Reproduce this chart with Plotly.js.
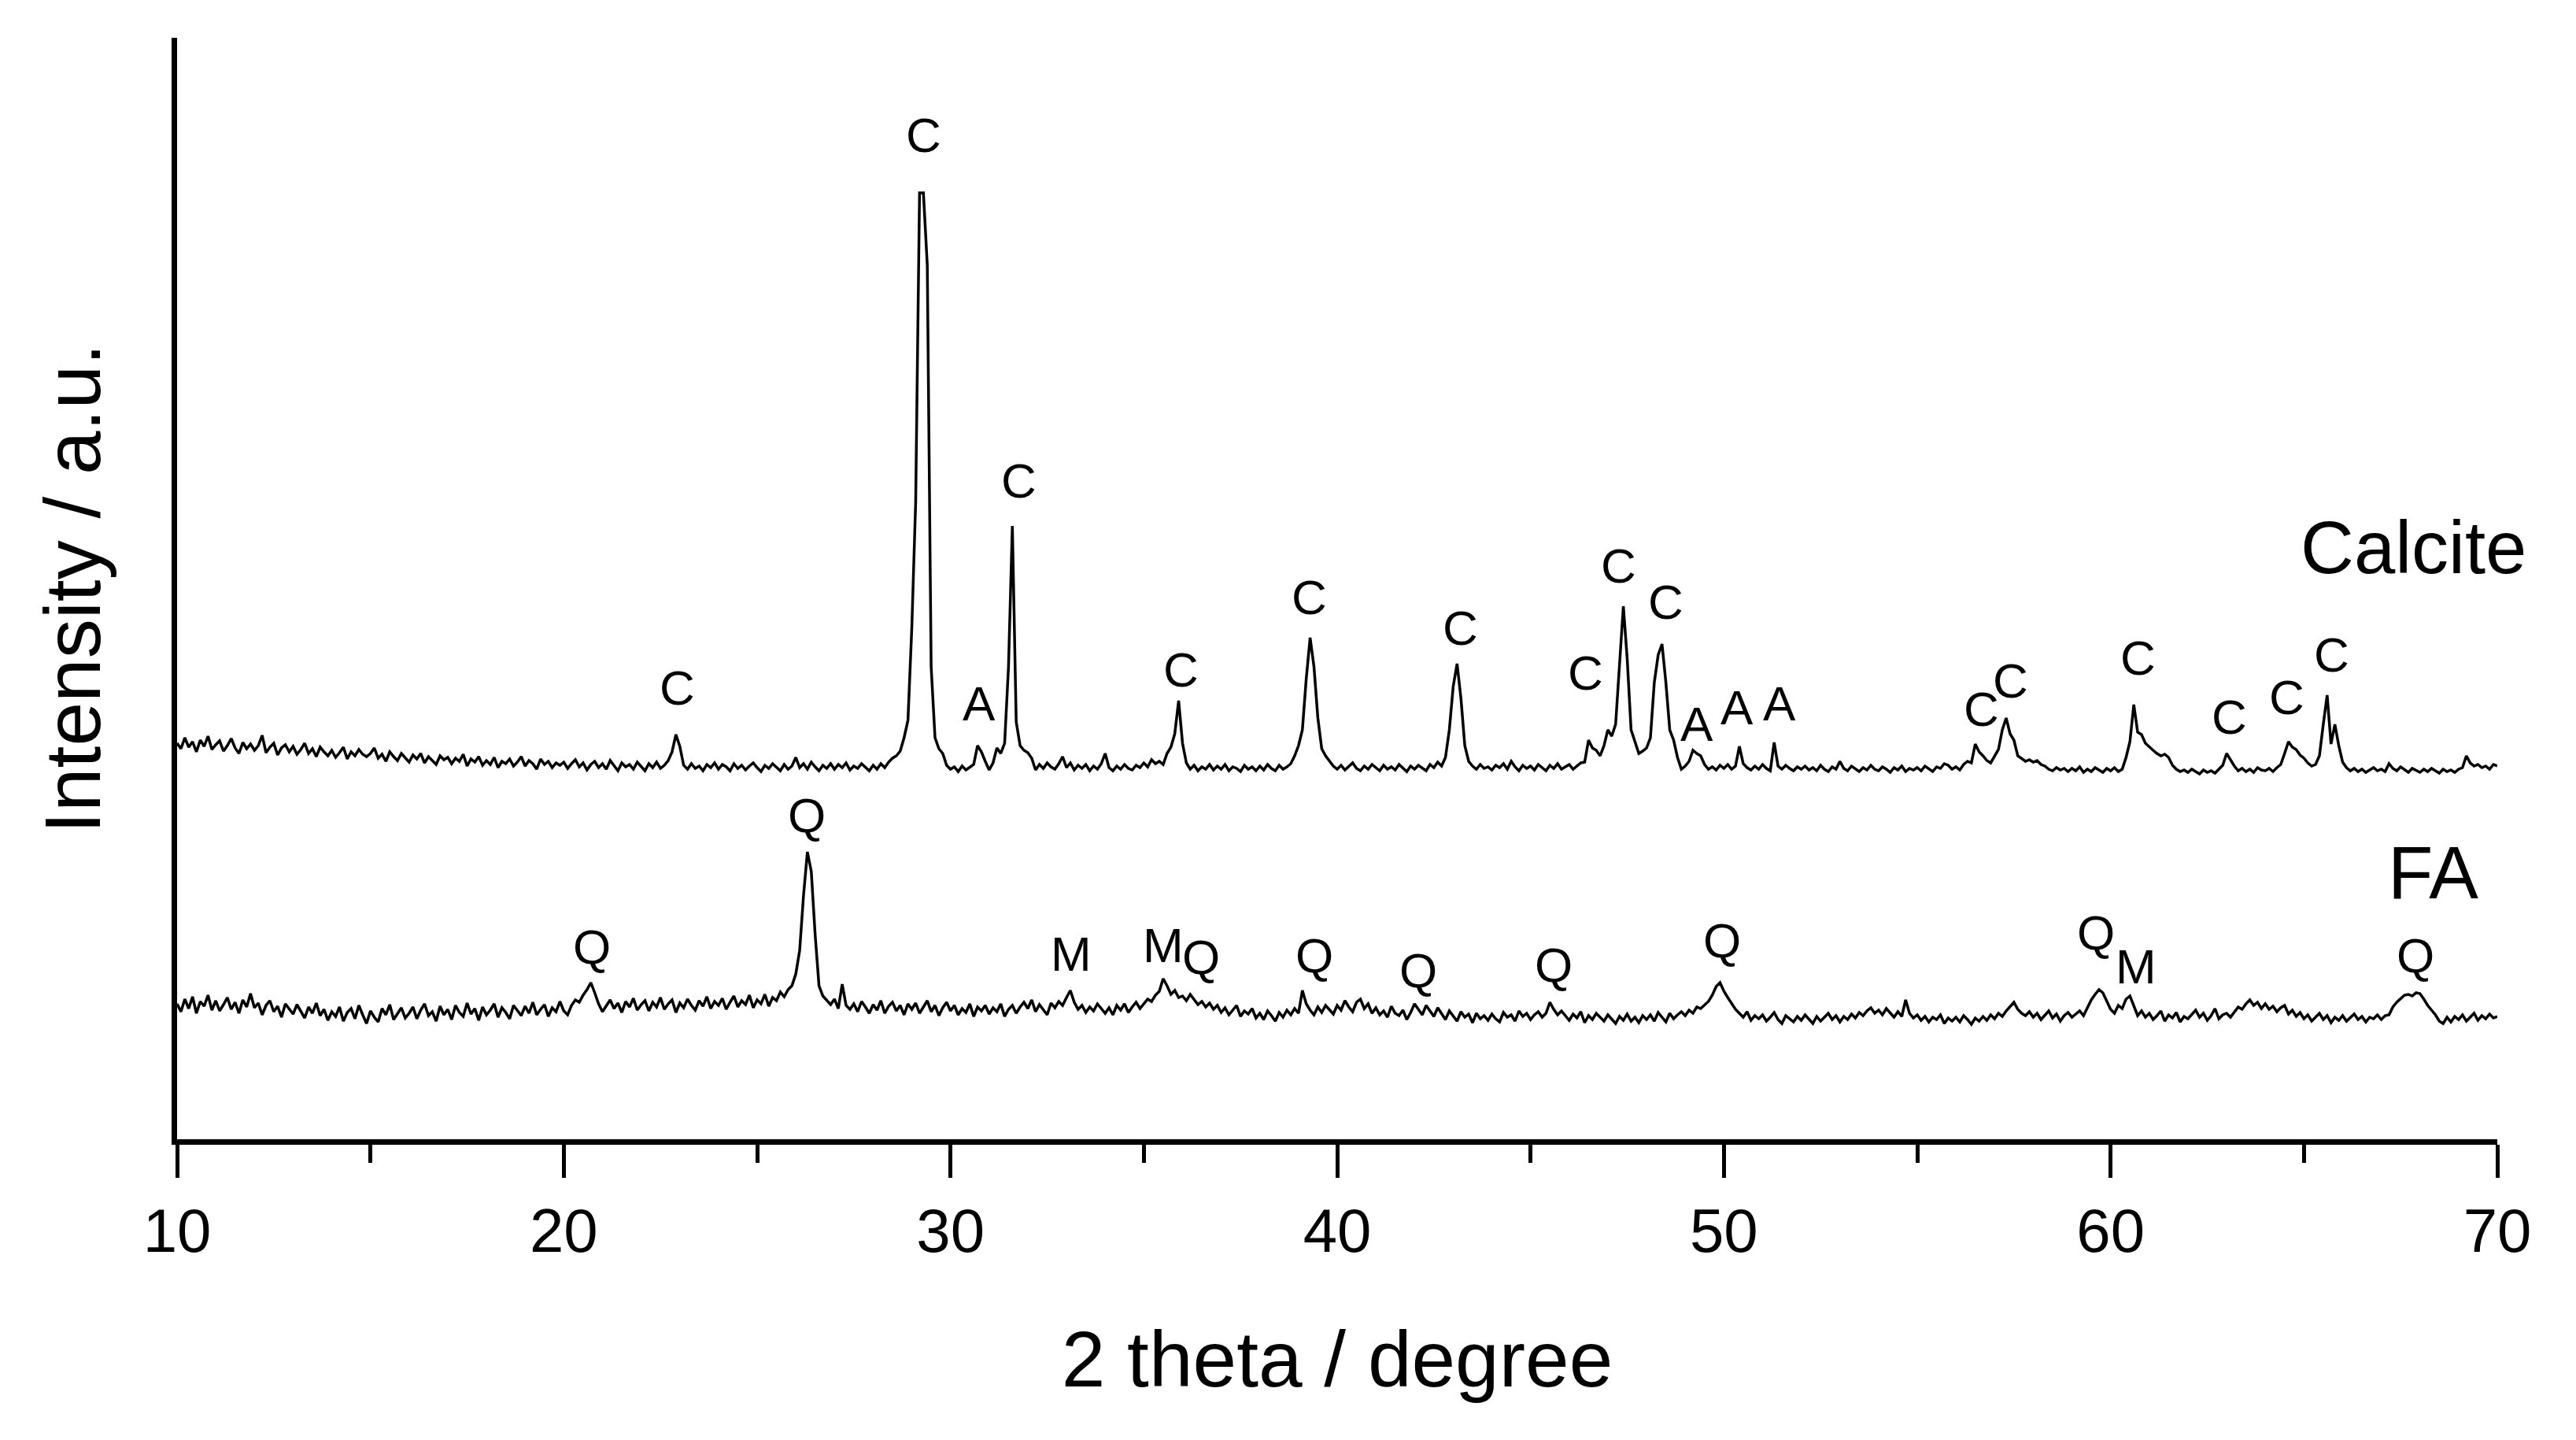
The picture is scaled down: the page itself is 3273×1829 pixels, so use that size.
<!DOCTYPE html>
<html>
<head>
<meta charset="utf-8">
<script src="https://cdn.plot.ly/plotly-3.0.1.min.js"></script>
<style>
  html, body { margin: 0; padding: 0; background: #fff; }
  #xrd { width: 3273px; height: 1829px; }
</style>
</head>
<body>
<div id="xrd"></div>
<script>
// XRD scans, 2 theta from 10 to 70 deg in 0.1 deg steps
var startAngle = 10;
var stepAngle = 0.1;

var calciteCounts = [
  503, 496, 510, 498, 505, 492, 507, 499, 512, 495, // 10
  501, 506, 493, 500, 509, 497, 490, 504, 496, 502, // 11
  494, 500, 513, 491, 498, 503, 488, 497, 501, 492, // 12
  499, 489, 495, 503, 490, 496, 486, 498, 492, 487, // 13
  494, 485, 491, 498, 483, 492, 487, 495, 489, 486, // 14
  490, 497, 484, 489, 480, 492, 486, 481, 490, 484, // 15
  479, 488, 483, 490, 478, 486, 481, 476, 487, 482, // 16
  485, 477, 484, 480, 489, 474, 483, 479, 486, 475, // 17
  481, 476, 485, 472, 480, 477, 483, 474, 479, 486, // 18
  474, 481, 477, 470, 483, 476, 480, 472, 478, 475, // 19
  479, 471, 477, 482, 473, 478, 469, 476, 480, 472, // 20
  477, 470, 481, 474, 468, 478, 473, 476, 470, 479, // 21
  474, 468, 477, 472, 479, 471, 475, 481, 492, 514, // 22
  499, 475, 470, 477, 471, 474, 468, 476, 472, 478, // 23
  470, 476, 473, 468, 477, 471, 475, 469, 474, 478, // 24
  472, 467, 475, 471, 477, 473, 468, 476, 470, 474, // 25
  485, 472, 477, 470, 479, 473, 468, 475, 471, 477, // 26
  470, 476, 472, 478, 469, 474, 471, 477, 473, 468, // 27
  475, 470, 477, 472, 479, 484, 487, 493, 510, 532, // 28
  650, 810, 1202, 1202, 1110, 600, 510, 496, 490, 475, // 29
  470, 473, 467, 474, 469, 472, 476, 500, 492, 480, // 30
  469, 478, 497, 490, 503, 600, 779, 530, 500, 494, // 31
  491, 484, 469, 476, 471, 478, 473, 470, 477, 486, // 32
  472, 478, 469, 475, 471, 476, 468, 474, 470, 477, // 33
  490, 472, 468, 474, 470, 476, 471, 469, 475, 472, // 34
  478, 473, 482, 477, 480, 476, 490, 498, 515, 557, // 35
  503, 478, 470, 475, 468, 473, 470, 476, 469, 474, // 36
  470, 476, 468, 473, 471, 467, 475, 470, 473, 468, // 37
  474, 469, 476, 471, 468, 475, 470, 473, 477, 487, // 38
  500, 520, 585, 637, 600, 535, 496, 487, 480, 474, // 39
  470, 475, 469, 473, 478, 471, 468, 474, 470, 476, // 40
  472, 468, 475, 470, 473, 469, 476, 471, 467, 474, // 41
  470, 475, 471, 468, 476, 472, 479, 474, 485, 520, // 42
  575, 604, 560, 500, 480, 474, 470, 476, 471, 473, // 43
  469, 475, 472, 477, 470, 480, 473, 468, 475, 471, // 44
  474, 469, 476, 472, 468, 475, 471, 477, 470, 473, // 45
  476, 470, 474, 478, 479, 507, 497, 494, 487, 500, // 46
  520, 512, 527, 604, 677, 610, 520, 505, 490, 493, // 47
  497, 510, 580, 615, 629, 580, 520, 507, 485, 470, // 48
  474, 480, 494, 490, 487, 476, 470, 473, 469, 475, // 49
  471, 476, 470, 474, 499, 477, 472, 469, 474, 470, // 50
  476, 471, 468, 504, 474, 470, 475, 471, 468, 473, // 51
  470, 474, 469, 472, 468, 475, 470, 467, 473, 470, // 52
  480, 471, 468, 474, 470, 467, 472, 469, 475, 470, // 53
  468, 473, 470, 466, 472, 469, 474, 467, 471, 469, // 54
  472, 468, 474, 470, 467, 473, 471, 477, 475, 470, // 55
  473, 469, 476, 480, 478, 502, 492, 487, 481, 478, // 56
  487, 495, 520, 535, 515, 507, 487, 484, 480, 482, // 57
  479, 481, 476, 474, 470, 468, 472, 469, 471, 467, // 58
  471, 468, 473, 466, 470, 467, 472, 469, 466, 471, // 59
  468, 472, 467, 470, 485, 505, 552, 517, 514, 503, // 60
  498, 494, 490, 487, 489, 485, 475, 470, 467, 469, // 61
  466, 470, 467, 464, 469, 466, 468, 465, 470, 475, // 62
  490, 482, 474, 468, 471, 467, 470, 466, 472, 469, // 63
  468, 471, 467, 472, 476, 490, 505, 498, 495, 488, // 64
  484, 478, 474, 476, 487, 527, 564, 502, 527, 500, // 65
  479, 472, 468, 471, 467, 470, 466, 469, 472, 468, // 66
  470, 467, 477, 471, 468, 473, 469, 466, 471, 468, // 67
  466, 470, 467, 471, 468, 465, 470, 467, 469, 466, // 68
  470, 472, 487, 478, 474, 476, 472, 474, 470, 476, // 69
  474
];

var faCounts = [
  172, 162, 178, 166, 181, 160, 175, 169, 183, 164, // 10
  176, 163, 171, 180, 165, 174, 160, 177, 168, 185, // 11
  167, 173, 158, 170, 176, 162, 169, 155, 172, 165, // 12
  159, 171, 163, 154, 168, 160, 173, 157, 165, 151, // 13
  162, 156, 168, 150, 161, 166, 153, 170, 158, 147, // 14
  163, 155, 149, 166, 158, 171, 152, 160, 167, 154, // 15
  160, 168, 153, 164, 172, 157, 162, 150, 169, 158, // 16
  165, 152, 170, 161, 156, 173, 159, 166, 151, 168, // 17
  158, 164, 172, 155, 167, 161, 153, 170, 163, 157, // 18
  169, 160, 174, 158, 165, 171, 156, 167, 162, 175, // 19
  163, 158, 170, 177, 174, 183, 190, 199, 186, 172, // 20
  162, 170, 177, 166, 173, 161, 175, 168, 179, 164, // 21
  171, 176, 163, 174, 168, 180, 165, 172, 177, 161, // 22
  173, 167, 178, 170, 164, 176, 169, 181, 166, 175, // 23
  170, 179, 165, 174, 182, 168, 176, 171, 183, 167, // 24
  177, 172, 184, 169, 180, 176, 187, 181, 190, 195, // 25
  210, 240, 310, 365, 340, 260, 195, 182, 177, 171, // 26
  178, 166, 197, 170, 165, 172, 162, 175, 168, 160, // 27
  171, 164, 176, 160, 169, 174, 163, 170, 158, 172, // 28
  165, 173, 160, 168, 176, 162, 170, 157, 167, 174, // 29
  163, 170, 158, 166, 161, 172, 156, 168, 163, 170, // 30
  159, 167, 162, 172, 156, 165, 170, 160, 168, 174, // 31
  166, 177, 162, 171, 165, 158, 173, 167, 175, 170, // 32
  180, 189, 174, 165, 170, 161, 168, 163, 172, 166, // 33
  160, 167, 158, 170, 164, 172, 161, 168, 174, 166, // 34
  172, 178, 175, 183, 188, 204, 195, 184, 189, 180, // 35
  182, 176, 184, 178, 171, 175, 168, 173, 165, 170, // 36
  161, 167, 158, 164, 170, 156, 163, 159, 166, 154, // 37
  160, 152, 163, 157, 150, 161, 155, 164, 158, 166, // 38
  160, 189, 172, 164, 158, 168, 161, 170, 165, 159, // 39
  170, 164, 176, 168, 162, 174, 178, 166, 172, 160, // 40
  167, 158, 163, 155, 169, 160, 157, 164, 152, 161, // 41
  172, 165, 158, 170, 163, 156, 167, 160, 152, 163, // 42
  157, 150, 162, 155, 159, 148, 160, 153, 157, 151, // 43
  159, 153, 149, 161, 155, 158, 150, 163, 156, 160, // 44
  152, 158, 162, 155, 160, 174, 165, 158, 163, 157, // 45
  151, 159, 154, 162, 148, 157, 152, 160, 155, 150, // 46
  158, 153, 147, 156, 151, 159, 150, 155, 148, 157, // 47
  152, 158, 150, 161, 155, 149, 160, 153, 158, 162, // 48
  157, 164, 160, 168, 166, 170, 175, 183, 194, 199, // 49
  188, 180, 172, 165, 160, 155, 162, 151, 157, 153, // 50
  158, 150, 155, 161, 152, 147, 157, 153, 149, 156, // 51
  151, 158, 153, 147, 156, 150, 155, 160, 152, 157, // 52
  149, 156, 152, 159, 154, 161, 157, 163, 167, 160, // 53
  164, 158, 166, 161, 155, 162, 156, 177, 160, 154, // 54
  158, 151, 156, 149, 155, 152, 158, 147, 154, 150, // 55
  155, 149, 157, 152, 146, 154, 150, 156, 151, 158, // 56
  153, 160, 156, 163, 168, 174, 165, 160, 157, 162, // 57
  155, 160, 152, 158, 163, 154, 159, 150, 157, 161, // 58
  155, 159, 163, 157, 168, 177, 184, 190, 186, 175, // 59
  165, 160, 170, 166, 178, 182, 170, 157, 163, 155, // 60
  160, 152, 157, 163, 150, 158, 154, 161, 149, 156, // 61
  153, 159, 164, 155, 160, 151, 157, 166, 153, 158, // 62
  160, 155, 162, 168, 165, 172, 177, 170, 174, 166, // 63
  172, 165, 169, 162, 167, 170, 159, 164, 156, 161, // 64
  153, 158, 150, 155, 160, 152, 157, 148, 155, 151, // 65
  157, 150, 154, 159, 152, 156, 149, 155, 153, 158, // 66
  152, 157, 158, 168, 174, 178, 183, 184, 182, 186, // 67
  185, 178, 170, 164, 158, 150, 147, 155, 149, 156, // 68
  152, 158, 150, 155, 160, 151, 157, 153, 159, 154, // 69
  156
];

// phase marks: C calcite, A, Q quartz, M mullite
var calciteMarks  = ['C', 'C', 'A', 'C', 'C', 'C', 'C', 'C', 'C', 'C', 'A', 'A', 'A', 'C', 'C', 'C', 'C', 'C', 'C'];
var calciteMarkAt = [22.93, 29.3, 30.74, 31.76, 35.97, 39.28, 43.19, 46.42, 47.27, 48.5, 49.3, 50.33, 51.43, 56.66, 57.42, 60.7, 63.07, 64.56, 65.71];
var calciteMarkH  = [574, 1276, 554, 837, 597, 689, 650, 593, 729, 683, 528, 549, 554, 547, 583, 612, 537, 562, 616];

var faMarks  = ['Q', 'Q', 'M', 'M', 'Q', 'Q', 'Q', 'Q', 'Q', 'Q', 'M', 'Q'];
var faMarkAt = [20.72, 26.28, 33.12, 35.5, 36.48, 39.41, 42.09, 45.6, 49.95, 59.63, 60.65, 67.88];
var faMarkH  = [245, 412, 236, 247, 232, 234, 215, 222, 253, 263, 220, 234];

var sampleNames = ['Calcite', 'FA'];
var sampleNameAt = [67.83, 68.34];
var sampleNameH = [752, 339];

var font = 'Arial, "Liberation Sans", sans-serif';

var traces = [
  {x0: startAngle, dx: stepAngle, y: calciteCounts, name: 'Calcite', type: 'scatter', mode: 'lines',
   line: {color: '#000', width: 3.5}},
  {x0: startAngle, dx: stepAngle, y: faCounts, name: 'FA', type: 'scatter', mode: 'lines',
   line: {color: '#000', width: 3.5}}
];

var notes = [];
function addMarks(txt, xs, ys, size) {
  for (var i = 0; i < txt.length; i++) {
    notes.push({x: xs[i], y: ys[i], xref: 'x', yref: 'y', text: txt[i], showarrow: false,
      xanchor: 'center', yanchor: 'middle', font: {family: font, size: size, color: '#000'}});
  }
}
addMarks(calciteMarks, calciteMarkAt, calciteMarkH, 62);
addMarks(faMarks, faMarkAt, faMarkH, 62);
addMarks(sampleNames, sampleNameAt, sampleNameH, 94);

var layout = {
  width: 3273,
  height: 1829,
  margin: {l: 225, r: 100, t: 48, b: 382},
  paper_bgcolor: '#fff',
  plot_bgcolor: '#fff',
  showlegend: false,
  font: {family: font, color: '#000'},
  xaxis: {
    range: [10, 70],
    tick0: 10,
    dtick: 10,
    ticks: 'outside',
    ticklen: 42,
    tickwidth: 5,
    tickcolor: '#000',
    tickfont: {size: 78},
    showline: true,
    linewidth: 7,
    linecolor: '#000',
    showgrid: false,
    zeroline: false,
    minor: {tick0: 10, dtick: 5, ticks: 'outside', ticklen: 23, tickwidth: 5, tickcolor: '#000', showgrid: false},
    title: {text: '2 theta / degree', font: {size: 100}, standoff: 88}
  },
  yaxis: {
    range: [0, 1399],
    showline: true,
    linewidth: 7,
    linecolor: '#000',
    ticks: '',
    showticklabels: false,
    showgrid: false,
    zeroline: false,
    title: {text: 'Intensity / a.u.', font: {size: 100}, standoff: 60}
  },
  annotations: notes
};

Plotly.newPlot('xrd', traces, layout, {displayModeBar: false, staticPlot: true});
</script>
</body>
</html>
